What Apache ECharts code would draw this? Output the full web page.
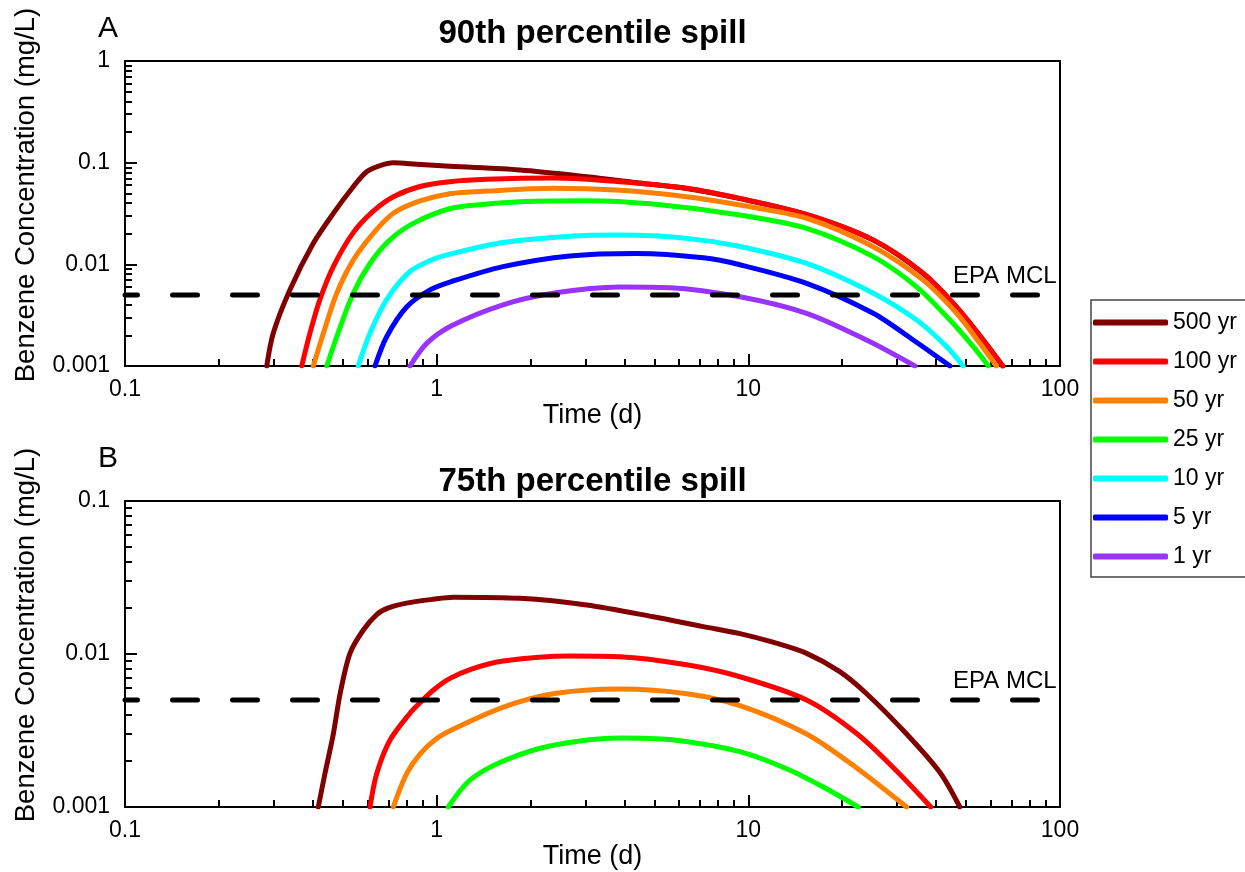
<!DOCTYPE html>
<html>
<head>
<meta charset="utf-8">
<title>Benzene concentration vs time</title>
<script src="https://cdn.jsdelivr.net/npm/echarts@6/dist/echarts.min.js"></script>
<style>
  html, body { margin: 0; padding: 0; background: #fff; }
  #chart { width: 1245px; height: 872px; }
</style>
</head>
<body>
<div id="chart"></div>
<script>
// Return-period scenarios (legend order)
const scenarioNames = ['500 yr', '100 yr', '50 yr', '25 yr', '10 yr', '5 yr', '1 yr'];
const scenarioColors = ['#800000', '#ff0000', '#ff8000', '#00ff00', '#00ffff', '#0000ff', '#9933ff'];

// EPA maximum contaminant level for benzene (mg/L)
const mclValue = 0.005;

// Axis tick values
const timeMajor = [0.1, 1, 10, 100];
const timeMinor = [0.2, 0.3, 0.4, 0.5, 0.6, 0.7, 0.8, 0.9, 2, 3, 4, 5, 6, 7, 8, 9, 20, 30, 40, 50, 60, 70, 80, 90];
const concMajorA = [0.001, 0.01, 0.1, 1];
const concMinorA = [0.002, 0.003, 0.004, 0.005, 0.006, 0.007, 0.008, 0.009,
                    0.02, 0.03, 0.04, 0.05, 0.06, 0.07, 0.08, 0.09,
                    0.2, 0.3, 0.4, 0.5, 0.6, 0.7, 0.8, 0.9];
const concMajorB = [0.001, 0.01, 0.1];
const concMinorB = [0.002, 0.003, 0.004, 0.005, 0.006, 0.007, 0.008, 0.009,
                    0.02, 0.03, 0.04, 0.05, 0.06, 0.07, 0.08, 0.09];

// Panel A: 90th percentile spill, [time (d), concentration (mg/L)]
const p90_500yr = [[0.285,0.001],[0.299,0.0021],[0.338,0.0056],[0.402,0.0161],[0.466,0.0317],[0.54,0.058],[0.596,0.0814],[0.658,0.0937],[0.726,0.0998],[0.863,0.0965],[1.1,0.092],[1.85,0.0847],[3.03,0.0728],[4.4,0.0635],[6.341,0.0558],[9.399,0.0443],[15.38,0.0308],[25.16,0.0173],[36.4,0.0081],[46.6,0.0038],[56.7,0.0018],[65.5,0.001]];
const p90_100yr = [[0.369,0.001],[0.392,0.0021],[0.422,0.0045],[0.466,0.0095],[0.54,0.0205],[0.626,0.0333],[0.726,0.0462],[0.884,0.0583],[1.103,0.065],[1.447,0.0686],[2.361,0.0706],[3.874,0.065],[6.341,0.056],[9.399,0.0445],[15.38,0.031],[25.16,0.0174],[36.4,0.0082],[46.6,0.0038],[56.7,0.0018],[65.5,0.001]];
const p90_50yr = [[0.402,0.001],[0.433,0.0021],[0.478,0.0052],[0.54,0.011],[0.626,0.0202],[0.726,0.0318],[0.884,0.042],[1.103,0.0495],[1.447,0.0525],[2.361,0.056],[3.874,0.0535],[6.341,0.0462],[9.399,0.0383],[15.38,0.0284],[25.16,0.0149],[36.4,0.007],[46.6,0.0033],[55.3,0.00167],[62.5,0.001]];
const p90_25yr = [[0.444,0.001],[0.478,0.00194],[0.54,0.0052],[0.611,0.0102],[0.708,0.0174],[0.841,0.0253],[1.1,0.0352],[1.4,0.0388],[1.85,0.0413],[3.029,0.0423],[4.943,0.0392],[9.399,0.0306],[15.38,0.0226],[25.16,0.0119],[34.67,0.006],[44.35,0.00283],[52.7,0.00155],[58.9,0.001]];
const p90_10yr = [[0.56,0.001],[0.611,0.0021],[0.691,0.0045],[0.821,0.0085],[0.975,0.0112],[1.103,0.0126],[1.632,0.0164],[2.677,0.0189],[3.874,0.0194],[6.341,0.018],[9.399,0.015],[15.38,0.0102],[25.16,0.0052],[34.67,0.00283],[43.27,0.00155],[48.9,0.001]];
const p90_5yr = [[0.634,0.001],[0.691,0.00194],[0.801,0.0038],[0.952,0.0056],[1.12,0.0068],[1.632,0.0095],[2.677,0.0121],[4.382,0.0128],[7.168,0.0116],[9.399,0.0099],[15.38,0.0065],[25.16,0.0033],[33.81,0.0018],[44.35,0.001]];
const p90_1yr = [[0.821,0.001],[0.929,0.00167],[1.12,0.0025],[1.632,0.004],[2.361,0.0052],[3.874,0.006],[5.604,0.0059],[9.399,0.0048],[15.38,0.0033],[23.96,0.0018],[34.24,0.001]];

// Panel B: 75th percentile spill
const p75_500yr = [[0.417,0.001],[0.438,0.00165],[0.466,0.003],[0.49,0.0055],[0.527,0.0101],[0.581,0.0143],[0.642,0.0181],[0.7,0.0200],[0.8,0.0215],[0.975,0.0228],[1.13,0.0235],[1.85,0.0231],[3.03,0.0209],[4.955,0.0175],[7.168,0.0151],[9.399,0.0136],[12.07,0.0119],[15.38,0.0101],[19.6,0.0077],[23.96,0.0055],[32.2,0.003],[41.2,0.00168],[47.7,0.001]];
const p75_100yr = [[0.611,0.001],[0.642,0.00165],[0.708,0.00273],[0.821,0.0041],[0.884,0.0048],[0.975,0.0058],[1.1,0.0069],[1.3,0.008],[1.636,0.009],[2.677,0.0097],[3.874,0.0096],[6.341,0.0085],[9.399,0.0071],[15.38,0.005],[22.26,0.00302],[29.91,0.00172],[38.5,0.001]];
const p75_50yr = [[0.726,0.001],[0.801,0.00165],[0.884,0.00222],[1.0,0.0028],[1.12,0.0032],[1.636,0.0045],[2.366,0.0055],[3.874,0.0059],[6.341,0.0055],[9.399,0.0046],[15.38,0.003],[22.26,0.0018],[32.2,0.001]];
const p75_25yr = [[1.089,0.001],[1.279,0.0015],[1.636,0.002],[2.366,0.00253],[3.874,0.00283],[5.604,0.00276],[9.399,0.0023],[13.6,0.00174],[17.39,0.00135],[22.53,0.001]];

const panelA = [p90_500yr, p90_100yr, p90_50yr, p90_25yr, p90_10yr, p90_5yr, p90_1yr];
const panelB = [p75_500yr, p75_100yr, p75_50yr, p75_25yr];

// Extent of the MCL reference line and its label anchor (time, d)
const mclSpan = [0.1, 90];
const mclLabelAt = 97.5;

const FONT = '"Liberation Sans", Arial, Helvetica, sans-serif';
const fmt = v => String(+(+v).toPrecision(6));

function xAxes(gridIndex) {
  return [
    {
      gridIndex, type: 'log', logBase: 10, min: 0.1, max: 100, position: 'bottom',
      axisLine: { show: true, onZero: false, lineStyle: { color: '#000', width: 2 } },
      axisTick: { show: true, inside: true, length: 12, customValues: timeMajor, lineStyle: { color: '#000', width: 2 } },
      axisLabel: { show: true, customValues: timeMajor, formatter: fmt, margin: 12, color: '#000', fontSize: 23, fontFamily: FONT },
      splitLine: { show: false },
      name: 'Time (d)', nameLocation: 'middle', nameGap: 35,
      nameTextStyle: { color: '#000', fontSize: 27, fontFamily: FONT }
    },
    {
      gridIndex, type: 'log', logBase: 10, min: 0.1, max: 100, position: 'bottom',
      axisLine: { show: false },
      axisTick: { show: true, inside: true, length: 7, customValues: timeMinor, lineStyle: { color: '#000', width: 2 } },
      axisLabel: { show: false },
      splitLine: { show: false }
    }
  ];
}

function yAxes(gridIndex, min, max, major, minor) {
  return [
    {
      gridIndex, type: 'log', logBase: 10, min, max, position: 'left',
      axisLine: { show: true, onZero: false, lineStyle: { color: '#000', width: 2 } },
      axisTick: { show: true, inside: true, length: 12, customValues: major, lineStyle: { color: '#000', width: 2 } },
      axisLabel: { show: true, customValues: major, formatter: fmt, margin: 15, color: '#000', fontSize: 23, fontFamily: FONT },
      splitLine: { show: false }
    },
    {
      gridIndex, type: 'log', logBase: 10, min, max, position: 'left',
      axisLine: { show: false },
      axisTick: { show: true, inside: true, length: 7, customValues: minor, lineStyle: { color: '#000', width: 2 } },
      axisLabel: { show: false },
      splitLine: { show: false }
    }
  ];
}

function curveSeries(data, i, axisIndex) {
  return {
    name: scenarioNames[i], type: 'line', data,
    xAxisIndex: axisIndex, yAxisIndex: axisIndex,
    showSymbol: false, symbol: 'none', smooth: 0.3, clip: true,
    lineStyle: { color: scenarioColors[i], width: 5, cap: 'round', join: 'round' },
    itemStyle: { color: scenarioColors[i] },
    z: 2 + i * 0.01
  };
}

function mclSeries(axisIndex) {
  return [
    {
      name: 'EPA MCL', type: 'line', xAxisIndex: axisIndex, yAxisIndex: axisIndex,
      data: mclSpan.map(t => [t, mclValue]),
      showSymbol: false, symbol: 'none', silent: true, z: 5,
      lineStyle: { color: '#000', width: 5, type: [25, 35], dashOffset: 12.5, cap: 'round' }
    },
    {
      name: 'EPA MCL label', type: 'scatter', xAxisIndex: axisIndex, yAxisIndex: axisIndex,
      data: [[mclLabelAt, mclValue]], symbolSize: 0, silent: true, z: 6,
      label: {
        show: true, formatter: 'EPA MCL', position: [0, -7], align: 'right', verticalAlign: 'bottom',
        color: '#000', opacity: 1, fontSize: 24, fontFamily: FONT
      }
    }
  ];
}

const series = [];
panelA.forEach((d, i) => series.push(curveSeries(d, i, 0)));
series.push(...mclSeries(0));
panelB.forEach((d, i) => series.push(curveSeries(d, i, 2)));
series.push(...mclSeries(2));

const yName = 'Benzene Concentration (mg/L)';

const option = {
  animation: false,
  backgroundColor: '#fff',
  textStyle: { fontFamily: FONT },
  grid: [
    { left: 125, top: 61, width: 935, height: 305, show: true, borderColor: '#000', borderWidth: 2, outerBoundsMode: 'none', containLabel: false },
    { left: 125, top: 501, width: 935, height: 306, show: true, borderColor: '#000', borderWidth: 2, outerBoundsMode: 'none', containLabel: false }
  ],
  xAxis: [...xAxes(0), ...xAxes(1)],
  yAxis: [...yAxes(0, 0.001, 1, concMajorA, concMinorA), ...yAxes(1, 0.001, 0.1, concMajorB, concMinorB)],
  legend: {
    data: scenarioNames, orient: 'vertical', left: 1091, top: 300,
    icon: 'roundRect', itemWidth: 75, itemHeight: 6, itemGap: 16,
    padding: [11, 24, 9, 2], borderColor: '#444', borderWidth: 1.5,
    selectedMode: false,
    textStyle: { color: '#000', fontSize: 23, fontFamily: FONT }
  },
  graphic: [
    { type: 'text', x: 108, y: 29, silent: true, style: { text: 'A', fill: '#000', font: '30px ' + FONT, align: 'center', verticalAlign: 'middle' } },
    { type: 'text', x: 108, y: 459, silent: true, style: { text: 'B', fill: '#000', font: '30px ' + FONT, align: 'center', verticalAlign: 'middle' } },
    { type: 'text', x: 592.5, y: 34, silent: true, style: { text: '90th percentile spill', fill: '#000', font: 'bold 33px ' + FONT, align: 'center', verticalAlign: 'middle' } },
    { type: 'text', x: 592.5, y: 482, silent: true, style: { text: '75th percentile spill', fill: '#000', font: 'bold 33px ' + FONT, align: 'center', verticalAlign: 'middle' } },
    { type: 'text', x: 26, y: 195, rotation: Math.PI / 2, silent: true, style: { text: yName, fill: '#000', font: '27.5px ' + FONT, align: 'center', verticalAlign: 'middle' } },
    { type: 'text', x: 26, y: 635, rotation: Math.PI / 2, silent: true, style: { text: yName, fill: '#000', font: '27.5px ' + FONT, align: 'center', verticalAlign: 'middle' } }
  ],
  series
};

const chart = echarts.init(document.getElementById('chart'), null, { renderer: 'canvas' });
chart.setOption(option);
</script>
</body>
</html>
